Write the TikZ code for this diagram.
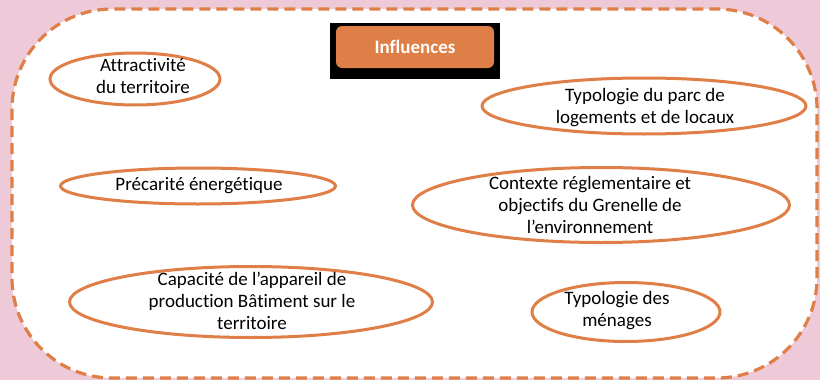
\documentclass[tikz,border=0pt]{standalone}
\usepackage{fontspec}
\setmainfont{Carlito}[Ligatures={NoCommon,NoRare}]
\usetikzlibrary{shapes.geometric}
\definecolor{bgpink}{HTML}{EECAD8}
\definecolor{orng}{HTML}{DF7F47}
\definecolor{orngfill}{HTML}{DE7F47}
\tikzset{
  ell/.style={ellipse, draw=orng, line width=3pt, fill=white, inner sep=0pt},
  lbl/.style={align=center, inner sep=0pt, font=\fontsize{19}{22}\selectfont, text=black},
  headbox/.style={rectangle, rounded corners=6pt, fill=orngfill, inner sep=0pt,
    font=\fontsize{19}{22}\selectfont\bfseries, text=white},
  frame/.style={draw=orng, line width=3.2pt, dash pattern=on 11pt off 6pt, fill=white, rounded corners=100pt}
}
\begin{document}
\begin{tikzpicture}[x=1pt,y=-1pt]
\useasboundingbox (0,0) rectangle (820,380);
\fill[bgpink] (0,0) rectangle (820,380);
\draw[frame] (12,9) rectangle (817,378);
% header
\fill[black] (330,23) rectangle (500,79);
\node[headbox, minimum width=158pt, minimum height=42pt] (infl) at (415,47) {Influences};
% ellipses
\node[ell, minimum width=170pt, minimum height=52pt] (attr) at (135,79) {};
\node[lbl] (attrT) at (143,76) {Attractivité\\du territoire};
\node[ell, minimum width=324pt, minimum height=56pt] (typparc) at (644,106) {};
\node[lbl] (typparcT) at (645,108) {Typologie du parc de\\logements et de locaux};
\node[ell, minimum width=275pt, minimum height=36pt] (prec) at (198,186) {};
\node[lbl] (precT) at (199,186) {Précarité énergétique};
\node[ell, minimum width=377pt, minimum height=75pt] (ctx) at (601,205) {};
\node[lbl] (ctxT) at (590,205) {Contexte réglementaire et\\objectifs du Grenelle de\\l’environnement};
\node[ell, minimum width=363pt, minimum height=71pt] (cap) at (251,302) {};
\node[lbl] (capT) at (252,301) {Capacité de l’appareil de\\production Bâtiment sur le\\territoire};
\node[ell, minimum width=188pt, minimum height=59pt] (men) at (626,312) {};
\node[lbl] (menT) at (617,311) {Typologie des\\ménages};
\end{tikzpicture}
\end{document}
